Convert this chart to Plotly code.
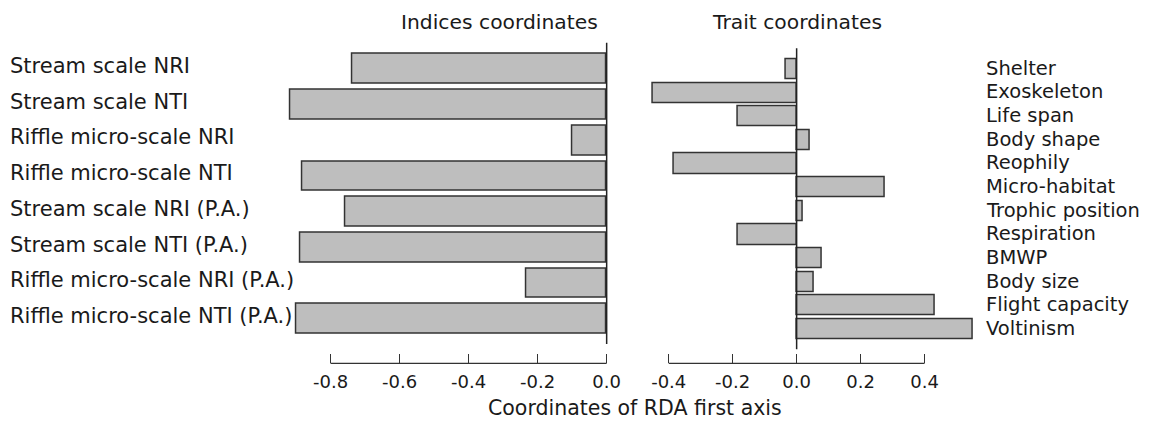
import plotly.graph_objects as go

W, H = 1154, 421

# RDA first-axis coordinates of the diversity indices
index_labels = [
    "Stream scale NRI",
    "Stream scale NTI",
    "Riffle micro-scale NRI",
    "Riffle micro-scale NTI",
    "Stream scale NRI (P.A.)",
    "Stream scale NTI (P.A.)",
    "Riffle micro-scale NRI (P.A.)",
    "Riffle micro-scale NTI (P.A.)",
]
index_values = [-0.737, -0.916, -0.100, -0.883, -0.757, -0.887, -0.234, -0.898]

# RDA first-axis coordinates of the traits
trait_labels = [
    "Shelter", "Exoskeleton", "Life span", "Body shape", "Reophily",
    "Micro-habitat", "Trophic position", "Respiration", "BMWP",
    "Body size", "Flight capacity", "Voltinism",
]
trait_values = [-0.034, -0.450, -0.183, 0.040, -0.383, 0.275,
                0.020, -0.183, 0.080, 0.054, 0.433, 0.550]

index_ticks = [-0.8, -0.6, -0.4, -0.2, 0.0]
index_ticktext = ["-0.8", "-0.6", "-0.4", "-0.2", "0.0"]
trait_ticks = [-0.4, -0.2, 0.0, 0.2, 0.4]
trait_ticktext = ["-0.4", "-0.2", "0.0", "0.2", "0.4"]

FONT = "DejaVu Sans"
TXT = "#1a1a1a"
BAR_FILL = "#bebebe"
BAR_EDGE = "#333333"


def fx(p):
    return p / W


def fy(p):
    return 1 - p / H


# pixel geometry of the two panels
L_ZERO, L_SCALE = 612.5, 348.5      # px of x=0, px per unit
R_ZERO, R_SCALE = 804.3, 322.9
AXIS_Y = 363.3

fig = go.Figure()

fig.add_trace(go.Bar(
    x=index_values, y=index_labels, orientation="h",
    width=0.83, marker=dict(color=BAR_FILL, line=dict(color=BAR_EDGE, width=1.5)),
    xaxis="x", yaxis="y", showlegend=False,
))
fig.add_trace(go.Bar(
    x=trait_values, y=trait_labels, orientation="h",
    width=0.85, marker=dict(color=BAR_FILL, line=dict(color=BAR_EDGE, width=1.5)),
    xaxis="x2", yaxis="y2", showlegend=False,
))

l_dom = (285, 616)
r_dom = (650, 992)

common_x = dict(
    anchor="free", position=fy(AXIS_Y), showgrid=False, zeroline=False,
    showline=False, ticks="inside", ticklen=9, tickwidth=1.3, tickcolor="#333",
    ticklabelstandoff=6,
    tickfont=dict(family=FONT, size=18, color=TXT), fixedrange=True,
)
common_y = dict(
    type="category", showgrid=False, zeroline=False, showline=False,
    showticklabels=False, ticks="", fixedrange=True,
)

fig.update_layout(
    width=W, height=H,
    margin=dict(l=0, r=0, t=0, b=0),
    paper_bgcolor="white", plot_bgcolor="white",
    font=dict(family=FONT, color=TXT),
    bargap=0,
    xaxis=dict(
        domain=[fx(l_dom[0]), fx(l_dom[1])],
        range=[(l_dom[0] - L_ZERO) / L_SCALE, (l_dom[1] - L_ZERO) / L_SCALE],
        tickvals=index_ticks, ticktext=index_ticktext, **common_x,
    ),
    yaxis=dict(
        domain=[fy(344), fy(42.7)], anchor="x",
        categoryorder="array", categoryarray=index_labels,
        range=[7.70, -0.736], **common_y,
    ),
    xaxis2=dict(
        domain=[fx(r_dom[0]), fx(r_dom[1])],
        range=[(r_dom[0] - R_ZERO) / R_SCALE, (r_dom[1] - R_ZERO) / R_SCALE],
        tickvals=trait_ticks, ticktext=trait_ticktext, **common_x,
    ),
    yaxis2=dict(
        domain=[fy(349.3), fy(48.3)], anchor="x2",
        categoryorder="array", categoryarray=trait_labels,
        range=[11.846, -0.888], **common_y,
    ),
)

shapes = []
# vertical zero lines of both panels
for xr, yr in (("x", "y domain"), ("x2", "y2 domain")):
    shapes.append(dict(type="line", xref=xr, yref=yr, x0=0, x1=0, y0=0, y1=1,
                       line=dict(color="#222", width=1.5), layer="above"))
# bottom axis baselines spanning the tick range only
for xr, ticks in (("x", index_ticks), ("x2", trait_ticks)):
    shapes.append(dict(type="line", xref=xr, yref="paper",
                       x0=min(ticks), x1=max(ticks),
                       y0=fy(AXIS_Y), y1=fy(AXIS_Y),
                       line=dict(color="#333", width=1.3)))
fig.update_layout(shapes=shapes)

annotations = []
for lab in index_labels:
    annotations.append(dict(
        text=lab, xref="paper", yref="y", x=fx(8), y=lab,
        xanchor="left", yanchor="middle", showarrow=False, yshift=3,
        font=dict(family=FONT, size=21, color=TXT),
    ))
for lab in trait_labels:
    annotations.append(dict(
        text=lab, xref="paper", yref="y2", x=fx(993), y=lab,
        xanchor="left", yanchor="middle", showarrow=False, yshift=1,
        font=dict(family=FONT, size=19.5, color=TXT),
    ))
annotations += [
    dict(text="Indices coordinates", xref="paper", yref="paper",
         x=fx(504.7), y=fy(21.7), xanchor="center", yanchor="middle",
         showarrow=False, font=dict(family=FONT, size=20.3, color=TXT)),
    dict(text="Trait coordinates", xref="paper", yref="paper",
         x=fx(804.6), y=fy(21.7), xanchor="center", yanchor="middle",
         showarrow=False, font=dict(family=FONT, size=20.3, color=TXT)),
    dict(text="Coordinates of RDA first axis", xref="paper", yref="paper",
         x=fx(641.5), y=0, xanchor="center", yanchor="bottom", borderpad=0,
         showarrow=False, font=dict(family=FONT, size=20.5, color=TXT)),
]
fig.update_layout(annotations=annotations)

fig.write_html("out.html")
